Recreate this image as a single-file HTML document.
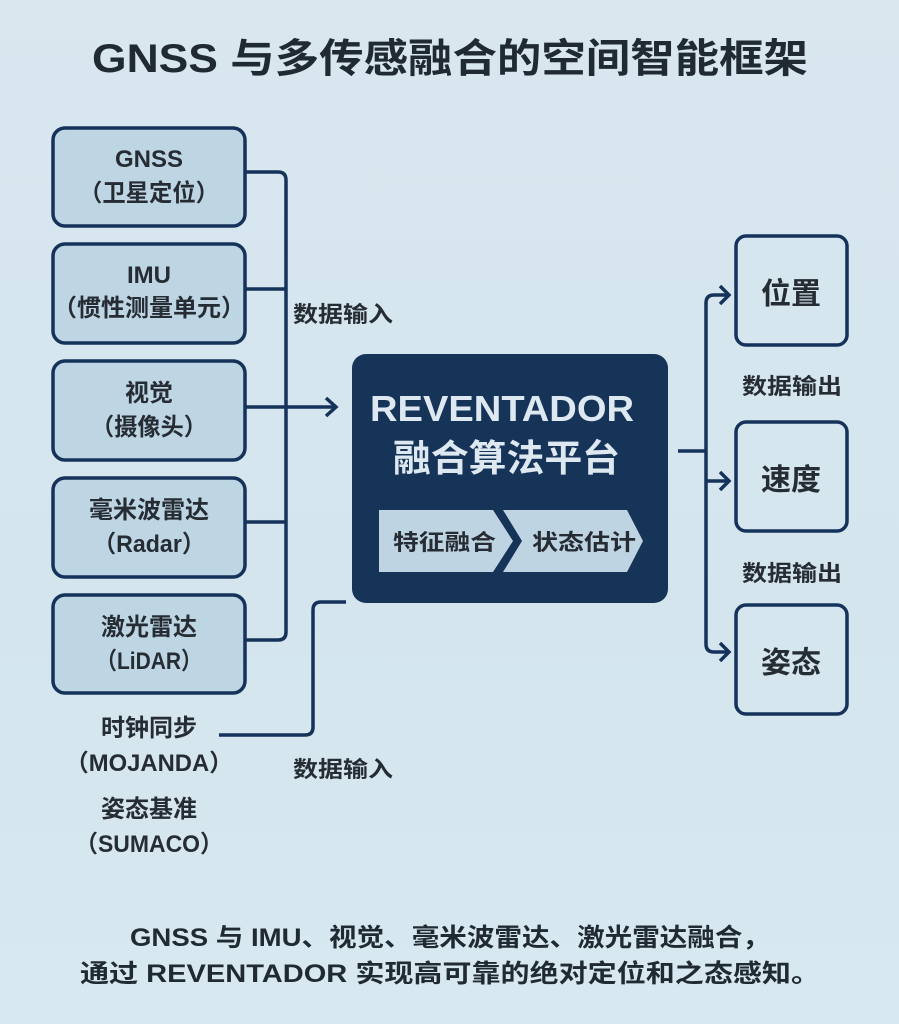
<!DOCTYPE html>
<html><head><meta charset="utf-8"><style>
html,body{margin:0;padding:0;}
body{width:899px;height:1024px;background:linear-gradient(180deg,#d9e7ef 0%,#d4e5ee 60%,#d8e8f0 100%);overflow:hidden;}
svg{display:block;}
text{font-family:"Liberation Sans","Noto Sans CJK SC",sans-serif;font-weight:bold;}
</style></head><body>
<svg width="899" height="1024" viewBox="0 0 899 1024">
<text x="92" y="72" font-size="40" fill="#1f2a33" textLength="716" lengthAdjust="spacingAndGlyphs">GNSS 与多传感融合的空间智能框架</text>

<g fill="#bed5e3" stroke="#15325a" stroke-width="3.5">
<rect x="53" y="128" width="192" height="98" rx="12"/>
<rect x="53" y="244" width="192" height="99" rx="12"/>
<rect x="53" y="361" width="192" height="99" rx="12"/>
<rect x="53" y="478" width="192" height="99" rx="12"/>
<rect x="53" y="595" width="192" height="98" rx="12"/>
</g>
<g font-size="24" fill="#262c33" text-anchor="middle">
<text x="149" y="167">GNSS</text><text x="149" y="201" textLength="140" lengthAdjust="spacingAndGlyphs">（卫星定位）</text>
<text x="149" y="283">IMU</text><text x="149" y="316" textLength="192" lengthAdjust="spacingAndGlyphs">（惯性测量单元）</text>
<text x="149" y="401">视觉</text><text x="149" y="435" textLength="116" lengthAdjust="spacingAndGlyphs">（摄像头）</text>
<text x="149" y="518">毫米波雷达</text><text x="149" y="552" textLength="112" lengthAdjust="spacingAndGlyphs">（Radar）</text>
<text x="149" y="635">激光雷达</text><text x="149" y="669" textLength="106" lengthAdjust="spacingAndGlyphs">（LiDAR）</text>
<text x="149" y="736">时钟同步</text><text x="149" y="771" textLength="168" lengthAdjust="spacingAndGlyphs">（MOJANDA）</text>
<text x="149" y="817">姿态基准</text><text x="149" y="852" textLength="148" lengthAdjust="spacingAndGlyphs">（SUMACO）</text>
</g>

<g fill="none" stroke="#15325a" stroke-width="3.5">
<path d="M245 172 H278 Q286 172 286 180 V632 Q286 640 278 640 H245"/>
<path d="M245 289 H286"/>
<path d="M245 407 H336"/>
<path d="M326 398 L336 407 L326 416"/>
<path d="M245 522 H286"/>
<path d="M219 735 H305 Q313 735 313 727 V610 Q313 602 321 602 H346"/>
<path d="M678 451 H706"/>
<path d="M706 303 Q706 295 714 295 H729 M706 303 V644 Q706 652 714 652 H729"/>
<path d="M706 481 H729"/>
<path d="M720 286 L729 295 L720 304"/>
<path d="M720 472 L729 481 L720 490"/>
<path d="M720 643 L729 652 L720 661"/>
</g>
<g font-size="22" fill="#262c33">
<text x="293" y="322" textLength="100" lengthAdjust="spacingAndGlyphs">数据输入</text>
<text x="293" y="777" textLength="100" lengthAdjust="spacingAndGlyphs">数据输入</text>
<text x="742" y="394" textLength="100" lengthAdjust="spacingAndGlyphs">数据输出</text>
<text x="742" y="581" textLength="100" lengthAdjust="spacingAndGlyphs">数据输出</text>
</g>

<rect x="352" y="354" width="316" height="249" rx="14" fill="#163358"/>
<text x="370" y="421" font-size="36" fill="#dde8f0" textLength="264" lengthAdjust="spacingAndGlyphs">REVENTADOR</text>
<text x="393" y="471" font-size="37" fill="#dde8f0" textLength="227" lengthAdjust="spacingAndGlyphs">融合算法平台</text>
<polygon points="379,510 493,510 513,541 493,572 379,572" fill="#bfd4e2"/>
<polygon points="503,510 627,510 643,541 627,572 503,572 522,541" fill="#bfd4e2"/>
<text x="393" y="550" font-size="22" fill="#262c33" textLength="103" lengthAdjust="spacingAndGlyphs">特征融合</text>
<text x="532" y="550" font-size="22" fill="#262c33" textLength="104" lengthAdjust="spacingAndGlyphs">状态估计</text>

<g fill="#d5e6ef" stroke="#15325a" stroke-width="3.5">
<rect x="736" y="236" width="111" height="109" rx="10"/>
<rect x="736" y="422" width="111" height="109" rx="10"/>
<rect x="736" y="605" width="111" height="109" rx="10"/>
</g>
<g font-size="30" fill="#262c33" text-anchor="middle">
<text x="791" y="304">位置</text>
<text x="791" y="490">速度</text>
<text x="791" y="673">姿态</text>
</g>

<g font-size="25" fill="#1f2a33">
<text x="130" y="946" textLength="640" lengthAdjust="spacingAndGlyphs">GNSS 与 IMU、视觉、毫米波雷达、激光雷达融合，</text>
<text x="80" y="982" textLength="740" lengthAdjust="spacingAndGlyphs">通过 REVENTADOR 实现高可靠的绝对定位和之态感知。</text>
</g>
</svg>
</body></html>
